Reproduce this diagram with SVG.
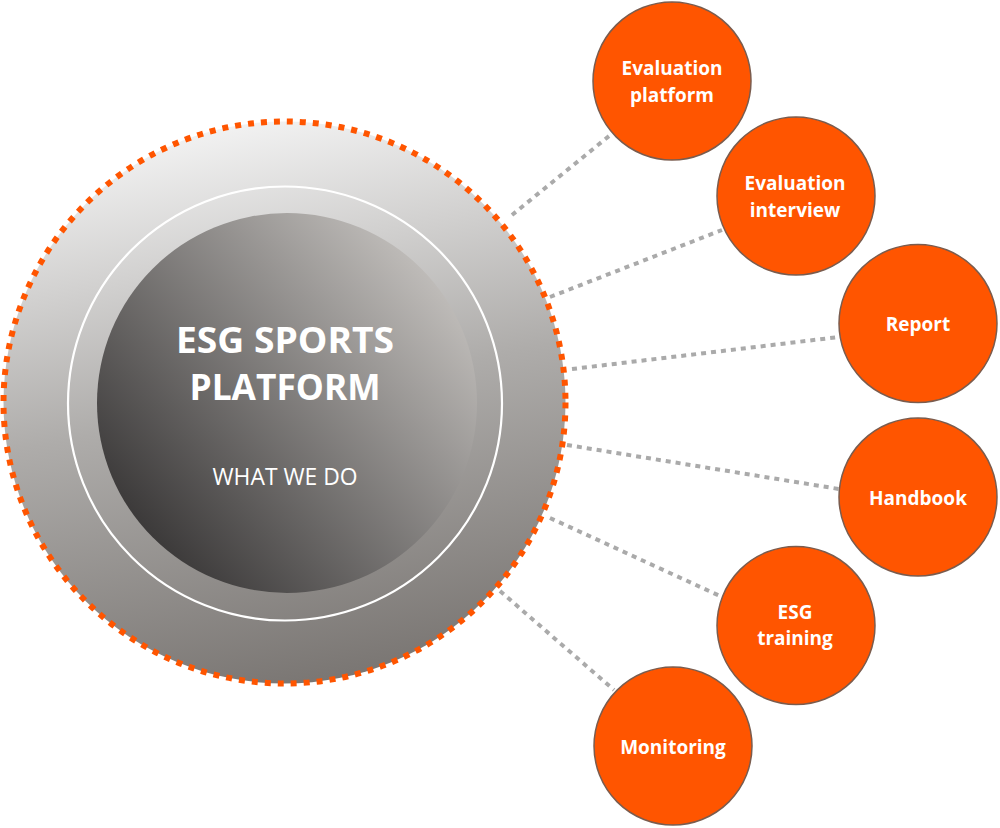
<svg xmlns="http://www.w3.org/2000/svg" width="1000" height="828" viewBox="0 0 1000 828">
<defs>
<linearGradient id="outerG" x1="0.35" y1="0" x2="0.55" y2="1">
<stop offset="0" stop-color="#f4f4f4"/>
<stop offset="0.5" stop-color="#aeacaa"/>
<stop offset="1" stop-color="#7a7673"/>
</linearGradient>
<linearGradient id="innerG" x1="0.1" y1="0.85" x2="0.9" y2="0.15">
<stop offset="0" stop-color="#383636"/>
<stop offset="1" stop-color="#c2bfbc"/>
</linearGradient>
<style>
.conn{fill:none;stroke:#aaaaaa;stroke-width:4;stroke-dasharray:5 5}
.bub{fill:#ff5500;stroke:#7a5c4e;stroke-width:1.5}
.lbl{font-family:"Open Sans","Liberation Sans",sans-serif;font-weight:700;font-size:19px;fill:#ffffff;text-anchor:middle}
.title{font-family:"Open Sans","Liberation Sans",sans-serif;font-weight:700;font-size:35px;fill:#ffffff;text-anchor:middle}
.sub{font-family:"Open Sans","Liberation Sans",sans-serif;font-weight:400;font-size:24px;fill:#ffffff;text-anchor:middle}
</style>
</defs>
<rect width="1000" height="828" fill="#ffffff"/>
<g id="connectors">
<line class="conn" x1="512" y1="215" x2="614" y2="132"/>
<line class="conn" x1="550" y1="297" x2="722" y2="230"/>
<line class="conn" x1="572" y1="369" x2="839" y2="337"/>
<line class="conn" x1="567" y1="445" x2="839" y2="489"/>
<line class="conn" x1="550" y1="518" x2="720" y2="596"/>
<line class="conn" x1="500" y1="591" x2="614" y2="690"/>
</g>
<g id="center">
<circle cx="284.5" cy="402.5" r="281" fill="url(#outerG)"/>
<circle cx="284.5" cy="402.5" r="281" fill="none" stroke="#ff5500" stroke-width="6" stroke-dasharray="6 7"/>
<circle cx="285" cy="403.5" r="217" fill="none" stroke="#ffffff" stroke-width="2.2"/>
<circle cx="287" cy="403" r="190" fill="url(#innerG)"/>
<text class="title" x="285" y="353" textLength="218" lengthAdjust="spacingAndGlyphs">ESG SPORTS</text>
<text class="title" x="285" y="400" textLength="191" lengthAdjust="spacingAndGlyphs">PLATFORM</text>
<text class="sub" x="285" y="485" textLength="145" lengthAdjust="spacingAndGlyphs">WHAT WE DO</text>
</g>
<g id="n1">
<circle class="bub" cx="672" cy="81" r="79"/>
<text class="lbl" x="672" y="75">Evaluation</text>
<text class="lbl" x="672" y="102">platform</text>
</g>
<g id="n2">
<circle class="bub" cx="796" cy="196" r="79"/>
<text class="lbl" x="795" y="190">Evaluation</text>
<text class="lbl" x="795" y="217">interview</text>
</g>
<g id="n3">
<circle class="bub" cx="918" cy="323.5" r="79"/>
<text class="lbl" x="918" y="331">Report</text>
</g>
<g id="n4">
<circle class="bub" cx="918" cy="497" r="79"/>
<text class="lbl" x="918" y="505">Handbook</text>
</g>
<g id="n5">
<circle class="bub" cx="796" cy="625.5" r="79"/>
<text class="lbl" x="795" y="619">ESG</text>
<text class="lbl" x="795" y="645">training</text>
</g>
<g id="n6">
<circle class="bub" cx="673" cy="746" r="79"/>
<text class="lbl" x="673" y="754">Monitoring</text>
</g>
</svg>
